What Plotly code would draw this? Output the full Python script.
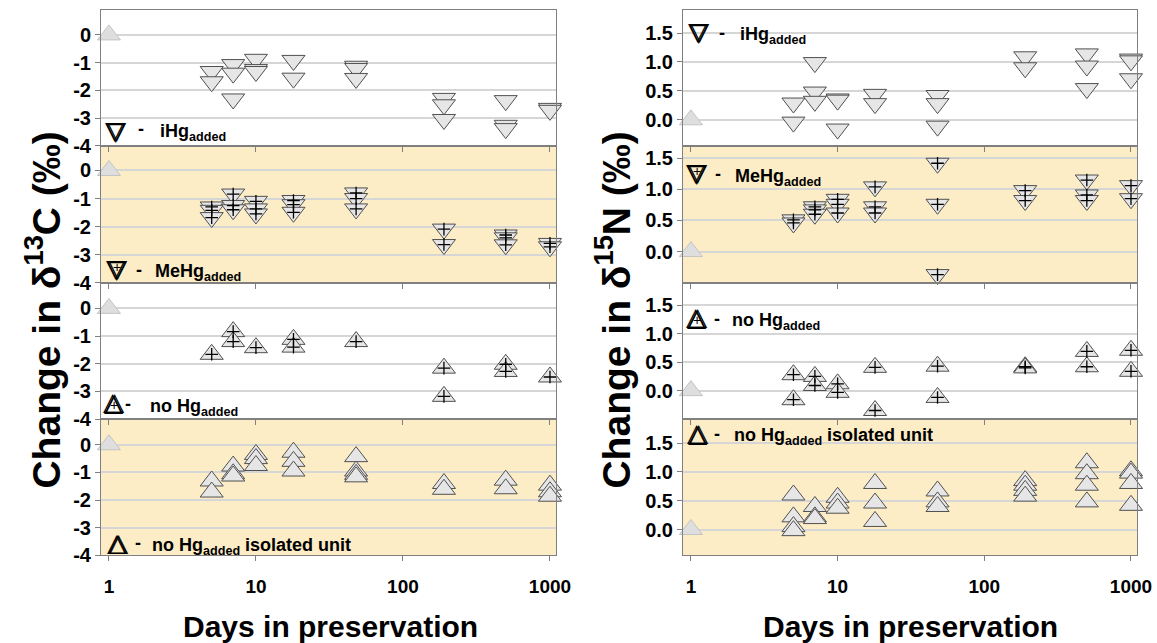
import plotly.graph_objects as go
from plotly.subplots import make_subplots

# ---------------- data ----------------
days = [5, 7, 10, 18, 48, 190, 500, 1000]
ref_day = [1]
ref_value = [0]

# delta 13C change (per day, replicate values)
c13_ihg = [[-1.32, -1.69], [-1.07, -1.38, -2.31], [-0.88, -1.25, -1.32], [-0.92, -1.56],
           [-1.13, -1.21, -1.57], [-2.29, -2.52, -3.05], [-2.37, -3.26, -3.38], [-2.65, -2.72]]
c13_mehg = [[-1.30, -1.42, -1.68], [-0.84, -1.25, -1.40], [-1.10, -1.37, -1.55], [-1.07, -1.22, -1.49],
            [-0.80, -1.00, -1.37], [-2.09, -2.64], [-2.30, -2.40, -2.65], [-2.60, -2.72]]
c13_nohg = [[-1.66], [-0.84, -1.20], [-1.42], [-1.12, -1.40],
            [-1.20], [-2.16, -3.18], [-2.02, -2.28], [-2.48]]
c13_iso = [[-1.31, -1.71], [-0.77, -1.05, -1.13], [-0.35, -0.50, -0.75], [-0.27, -0.60, -0.95],
           [-0.43, -0.95, -1.07, -1.16], [-1.40, -1.61], [-1.28, -1.59], [-1.46, -1.70, -1.86]]

# delta 15N change
n15_ihg = [[0.29, -0.04], [0.99, 0.48, 0.32], [0.36, 0.34, -0.16], [0.44, 0.28],
           [0.42, 0.28, -0.11], [1.09, 0.90], [1.14, 0.93, 0.54], [1.05, 1.02, 0.71]]
n15_mehg = [[0.51, 0.46], [0.72, 0.67, 0.60], [0.84, 0.76, 0.62], [1.04, 0.72, 0.62],
            [1.42, 0.76, -0.37], [0.98, 0.82], [1.15, 0.91, 0.82], [1.06, 0.85]]
n15_nohg = [[0.28, -0.16], [0.25, 0.09], [0.12, -0.03], [0.41, -0.35],
            [0.43, -0.12], [0.42, 0.40], [0.69, 0.42], [0.71, 0.34]]
n15_iso = [[0.60, 0.22, 0.05, -0.02], [0.40, 0.22, 0.19], [0.56, 0.46, 0.37], [0.80, 0.46, 0.14],
           [0.67, 0.48, 0.40], [0.85, 0.77, 0.68, 0.58], [1.16, 0.97, 0.77, 0.48], [1.02, 0.98, 0.80, 0.42]]

x_ticks = [1, 10, 100, 1000]
x_ticktext = ["1", "10", "100", "1000"]
c_ticks = [0, -1, -2, -3, -4]
c_ticktext = ["0", "-1", "-2", "-3", "-4"]
n_ticks = [0, 0.5, 1.0, 1.5]
n_ticktext = ["0.0", "0.5", "1.0", "1.5"]

legend_names = ["iHg<sub>added</sub>", "MeHg<sub>added</sub>", "no Hg<sub>added</sub>",
                "no Hg<sub>added</sub> isolated unit"]

# ---------------- layout helpers ----------------
W, H = 1157, 643          # reference pixel space
FW, FH = 1172, 651        # figure size (the page is rendered slightly reduced)
FONT = "Liberation Sans, Arial, sans-serif"


def fx(p):
    return p / W


def fy(p):
    return 1 - p / H


fig = make_subplots(rows=4, cols=2, horizontal_spacing=0.05, vertical_spacing=0)

col_dom = {1: [fx(101), fx(556)], 2: [fx(683), fx(1137)]}
row_px = {1: (10, 146.5), 2: (146.5, 284), 3: (284, 421), 4: (421, 558)}
c_ranges = {1: [-4, 0.9], 2: [-4, 0.88], 3: [-4, 0.93], 4: [-4, 0.93]}
n_ranges = {1: [-0.45, 1.9], 2: [-0.5, 1.7], 3: [-0.5, 1.9], 4: [-0.45, 1.92]}

panels = [
    (1, 1, c13_ihg, "triangle-down", False), (2, 1, c13_mehg, "triangle-down", True),
    (3, 1, c13_nohg, "triangle-up", True), (4, 1, c13_iso, "triangle-up", False),
    (1, 2, n15_ihg, "triangle-down", False), (2, 2, n15_mehg, "triangle-down", True),
    (3, 2, n15_nohg, "triangle-up", True), (4, 2, n15_iso, "triangle-up", False),
]

MS = 20
for r, c, series, sym, plus in panels:
    xs = [d for d, vals in zip(days, series) for _ in vals]
    ys = [v for vals in series for v in vals]
    fig.add_trace(go.Scatter(x=ref_day, y=ref_value, mode="markers", cliponaxis=False,
                             marker=dict(symbol="triangle-up", size=MS, color="#dedede",
                                         line=dict(color="#c4c4c4", width=1))), row=r, col=c)
    fig.add_trace(go.Scatter(x=xs, y=ys, mode="markers", cliponaxis=False,
                             marker=dict(symbol=sym, size=MS, color="#e6e6e6",
                                         line=dict(color="#505050", width=1))), row=r, col=c)
    if plus:
        fig.add_trace(go.Scatter(x=xs, y=ys, mode="markers", cliponaxis=False,
                                 marker=dict(symbol="cross-thin", size=9, color="black",
                                             line=dict(color="black", width=1.3))), row=r, col=c)

tickfont_y = dict(family=FONT, size=20, color="black", weight="bold")
tickfont_x = dict(family=FONT, size=19, color="black", weight="bold")

for r in range(1, 5):
    top, bot = row_px[r]
    ydom = [fy(bot), fy(top)]
    for c in (1, 2):
        fig.update_xaxes(row=r, col=c, domain=col_dom[c], type="log", range=[-0.054, 3.041],
                         tickvals=x_ticks, ticktext=x_ticktext, showticklabels=(r == 4),
                         tickfont=tickfont_x, ticks="outside", ticklen=5, tickcolor="#808080",
                         showline=True, linecolor="#808080", linewidth=1, mirror=True,
                         showgrid=False, zeroline=False, ticklabelstandoff=9)
        if c == 1:
            rng, tv, tt = c_ranges[r], c_ticks, c_ticktext
        else:
            rng, tv, tt = n_ranges[r], n_ticks, n_ticktext
        fig.update_yaxes(row=r, col=c, domain=ydom, range=rng, tickvals=tv, ticktext=tt,
                         tickfont=tickfont_y, ticks="outside", ticklen=5, tickcolor="#808080",
                         showline=True, linecolor="#808080", linewidth=1, mirror=True,
                         showgrid=True, gridcolor="#d6d6d6", gridwidth=1.5, zeroline=False)

# orange panel backgrounds (rows 2 and 4)
for n in (3, 4, 7, 8):
    fig.add_shape(type="rect", xref=f"x{n} domain", yref=f"y{n} domain", x0=0, x1=1, y0=0, y1=1,
                  fillcolor="#fdedc6", line=dict(width=0), layer="below")

P = dict(xref="paper", yref="paper", showarrow=False)
ann = []
# axis titles
for cx in (330, 910):
    ann.append(dict(P, x=fx(cx), y=fy(629), text="Days in preservation",
                    font=dict(family=FONT, size=30, color="black", weight="bold"),
                    xanchor="center", yanchor="middle"))
NB = "\u00a0"
ann.append(dict(P, x=fx(43), y=fy(312),
                text=f"Change in{NB}\u03b4<sup>13</sup>C{NB}(\u2030)",
                textangle=-90, font=dict(family=FONT, size=39, color="black", weight="bold"),
                xanchor="center", yanchor="middle"))
ann.append(dict(P, x=fx(613), y=fy(312),
                text=f"Change in{NB}\u03b4<sup>15</sup>N{NB}(\u2030)",
                textangle=-90, font=dict(family=FONT, size=39, color="black", weight="bold"),
                xanchor="center", yanchor="middle"))

# in-panel legend keys: (symbol center x, y, glyph, plus, dash x, text x, text y, name index)
DOWN, UP = "\u25bd", "\u25b3"
keys = [
    (116, 132, DOWN, False, 141, 158, 133, 0),
    (117, 270, DOWN, True, 139, 153, 274, 1),
    (114, 404, UP, True, 128, 148, 409, 2),
    (118, 545, UP, False, 138, 150, 549, 3),
    (699, 32, DOWN, False, 722, 738, 36, 0),
    (697, 174, DOWN, True, 718, 733, 178, 1),
    (697, 318, UP, True, 717, 730, 323, 2),
    (698, 435, UP, False, 717, 732, 439, 3),
]
for sx, sy, g, plus, dx, tx, ty, ni in keys:
    for ox, oy in ((-0.6, -0.4), (0.6, -0.4), (0.0, 0.5)):
        ann.append(dict(P, x=fx(sx + ox), y=fy(sy + oy), text=g, xanchor="center", yanchor="middle",
                        font=dict(family="DejaVu Sans", size=25, color="black", weight="bold")))
    if plus:
        py = sy - 2 if g == DOWN else sy + 3
        ann.append(dict(P, x=fx(sx), y=fy(py), text="+", xanchor="center",
                        yanchor="middle", font=dict(family=FONT, size=14, color="black")))
    ann.append(dict(P, x=fx(dx), y=fy(ty - 3), text="-", xanchor="center", yanchor="middle",
                    font=dict(family=FONT, size=18, color="black", weight="bold")))
    ann.append(dict(P, x=fx(tx), y=fy(ty), text=legend_names[ni], xanchor="left",
                    yanchor="middle", font=dict(family=FONT, size=18, color="black", weight="bold")))

fig.update_layout(width=FW, height=FH, margin=dict(l=0, r=0, t=0, b=0), autosize=False,
                  paper_bgcolor="white", plot_bgcolor="white", showlegend=False,
                  font=dict(family=FONT), annotations=ann)

fig.write_html("out.html")
